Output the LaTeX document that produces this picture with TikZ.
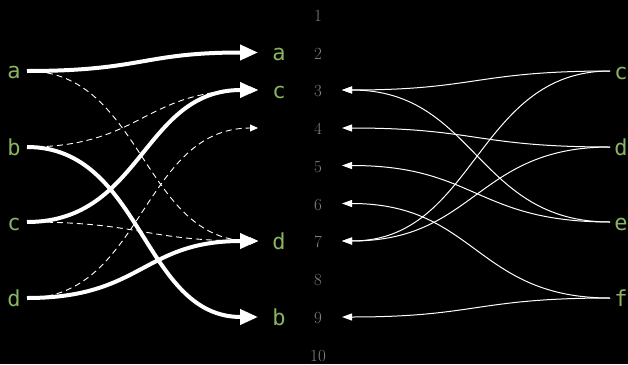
\documentclass[tikz,border=0pt]{standalone}
\usepackage{fontspec}
\usetikzlibrary{arrows.meta,calc}
\newfontfamily\labfont{DejaVu Sans Mono}
\definecolor{labgreen}{RGB}{138,180,98}
\definecolor{numgray}{RGB}{128,128,128}
\begin{document}
\begin{tikzpicture}[x=1pt,y=-1pt,
  lab/.style={text=labgreen,font=\labfont\fontsize{22}{26}\selectfont,anchor=base,inner sep=0pt},
  num/.style={text=numgray,font=\fontsize{17}{20}\selectfont,anchor=base,inner sep=0pt},
  link/.style={to path={let \p1=(\tikztostart), \p2=(\tikztotarget), \n1={0.5*(\x1+\x2)} in
      .. controls (\n1,\y1) and (\n1,\y2) .. (\tikztotarget)}},
  thicklink/.style={link,draw=white,line width=4pt,-{Triangle[length=18pt,width=15pt]}},
  dashlink/.style={link,draw=white,line width=0.9pt,dash pattern=on 6pt off 4pt,-{Triangle[length=8pt,width=7pt]}},
  thinlink/.style={link,draw=white,line width=1pt,-{Triangle[length=10pt,width=7pt]}},
]
\fill[black] (0,0) rectangle (628,364);
% left labels
\node[lab] (la) at (14,78) {a};
\node[lab] (lb) at (14,155) {b};
\node[lab] (lc) at (14,230) {c};
\node[lab] (ld) at (14,306) {d};
% middle labels
\node[lab] (ma) at (279,60) {a};
\node[lab] (mc) at (279,98) {c};
\node[lab] (md) at (279,249) {d};
\node[lab] (mb) at (279,325) {b};
% numbers
\foreach \i/\y in {1/15,2/52.5,3/90,4/128,5/165.5,6/203.5,7/241,8/279,9/317,10/354.5}
  \node[num] (n\i) at (318,\y+6.5) {\i};
% right labels
\node[lab] (rc) at (621,79) {c};
\node[lab] (rd) at (621,155) {d};
\node[lab] (re) at (621,230) {e};
\node[lab] (rf) at (621,306) {f};
% coordinates
\coordinate (sa) at (27,71);
\coordinate (sb) at (27,147);
\coordinate (sc) at (27,222);
\coordinate (sd) at (27,298);
\coordinate (t2) at (258,52.5);
\coordinate (t3) at (258,90);
\coordinate (t4) at (258,128);
\coordinate (t7) at (258,241);
\coordinate (t9) at (258,317);
\coordinate (uc) at (610,71);
\coordinate (ud) at (610,147);
\coordinate (ue) at (610,222);
\coordinate (uf) at (610,298);
\coordinate (v3) at (342,90);
\coordinate (v4) at (342,128);
\coordinate (v5) at (342,165.5);
\coordinate (v6) at (342,203.5);
\coordinate (v7) at (342,241);
\coordinate (v9) at (342,317);
% dashed
\draw[dashlink] (sa) to (t7);
\draw[dashlink] (sb) to (t3);
\draw[dashlink] (sc) to (t7);
\draw[dashlink] (sd) to (t4);
% thick
\draw[thicklink] (sa) to (t2);
\draw[thicklink] (sc) to (t3);
\draw[thicklink] (sd) to (t7);
\draw[thicklink] (sb) to (t9);
% right thin
\draw[thinlink] (uc) to (v3);
\draw[thinlink] (uc) to (v7);
\draw[thinlink] (ud) to (v4);
\draw[thinlink] (ud) to (v7);
\draw[thinlink] (ue) to (v3);
\draw[thinlink] (ue) to (v5);
\draw[thinlink] (uf) to (v6);
\draw[thinlink] (uf) to (v9);
\end{tikzpicture}
\end{document}
